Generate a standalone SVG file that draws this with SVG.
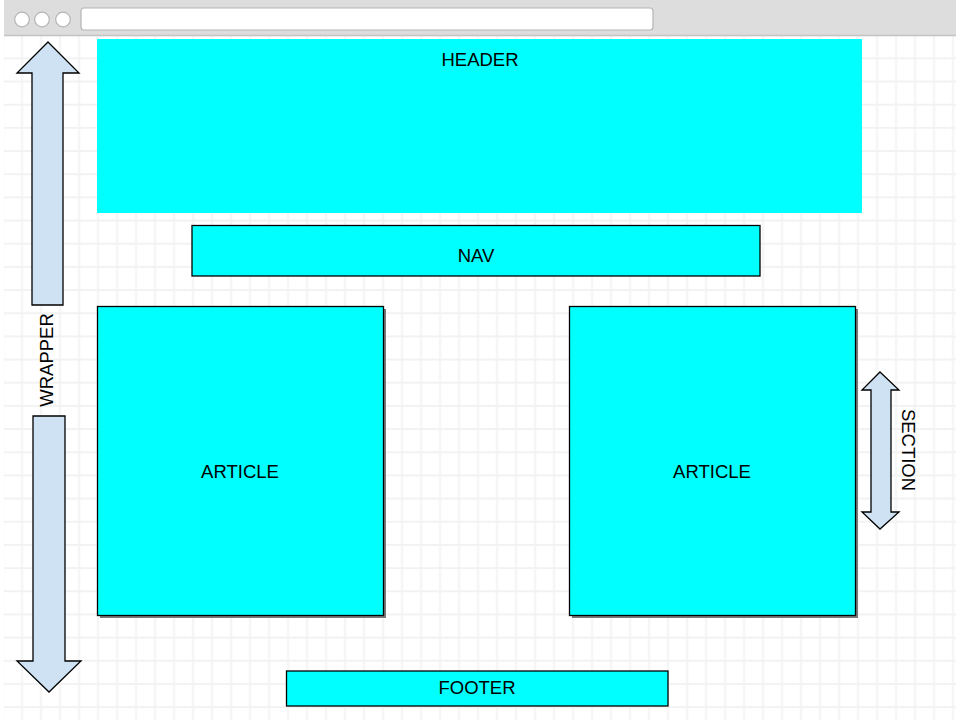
<svg xmlns="http://www.w3.org/2000/svg" width="960" height="720" viewBox="0 0 960 720">
  <style>
    .box { fill: #00ffff; stroke: #000; stroke-width: 1.3; }
    .shadow { fill: #7a7a7a; }
    .arrow { fill: #cfe2f3; stroke: #000; stroke-width: 1.3; stroke-linejoin: miter; }
    .label { font-family: "Liberation Sans", Arial, sans-serif; font-size: 18.5px; fill: #000; text-anchor: middle; }
    .dot { fill: #fff; stroke: #b5b5b5; stroke-width: 1.2; }
  </style>
  <defs>
    <pattern id="grid" patternUnits="userSpaceOnUse" x="12.5" y="23.6" width="19" height="23.17">
      <path d="M9.5 0V23.17M0 11.585H19" fill="none" stroke="#f2f2f2" stroke-width="1.8"/>
    </pattern>
  </defs>

  <!-- page background -->
  <rect x="0" y="0" width="960" height="720" fill="#fff"/>
  <rect x="4" y="36" width="952" height="684" fill="url(#grid)"/>

  <!-- browser chrome -->
  <g id="browser-bar">
    <rect x="4" y="0" width="952" height="36" fill="#dddddd"/>
    <line x1="4" y1="35.5" x2="956" y2="35.5" stroke="#c4c4c4" stroke-width="1.5"/>
    <circle class="dot" cx="22" cy="19.5" r="7.3"/>
    <circle class="dot" cx="42" cy="19.5" r="7.3"/>
    <circle class="dot" cx="63" cy="19.5" r="7.3"/>
    <rect x="81" y="8" width="572" height="22" rx="3" fill="#fff" stroke="#b5b5b5" stroke-width="1.2"/>
  </g>

  <g id="header">
    <rect x="97" y="39" width="765" height="174" fill="#00ffff"/>
    <text class="label" x="480" y="66">HEADER</text>
  </g>

  <g id="nav">
    <rect class="box" x="192" y="225.5" width="568" height="50.5"/>
    <text class="label" x="476" y="262">NAV</text>
  </g>

  <g id="article-left">
    <rect class="shadow" x="100" y="309" width="286" height="309"/>
    <rect class="box" x="97.5" y="306.5" width="286" height="309"/>
    <text class="label" x="240" y="478">ARTICLE</text>
  </g>

  <g id="article-right">
    <rect class="shadow" x="572" y="309" width="286" height="309"/>
    <rect class="box" x="569.5" y="306.5" width="286" height="309"/>
    <text class="label" x="712" y="478">ARTICLE</text>
  </g>

  <g id="footer">
    <rect class="box" x="286.5" y="671" width="381.5" height="35"/>
    <text class="label" x="477" y="694">FOOTER</text>
  </g>

  <!-- wrapper extent: split double arrow with its label -->
  <g id="wrapper">
    <path class="arrow" d="M48 42L79 73H63V305H32V73H17Z"/>
    <path class="arrow" d="M33 416H65V661H81L49 692L17 661H33Z"/>
    <text class="label" transform="translate(52.6,360) rotate(-90)">WRAPPER</text>
  </g>

  <!-- section extent: double arrow with its label -->
  <g id="section">
    <path class="arrow" d="M880 372L899 390H891V512H899L880 529L862 512H871V390H862Z"/>
    <text class="label" transform="translate(902.4,450) rotate(90)">SECTION</text>
  </g>
</svg>
